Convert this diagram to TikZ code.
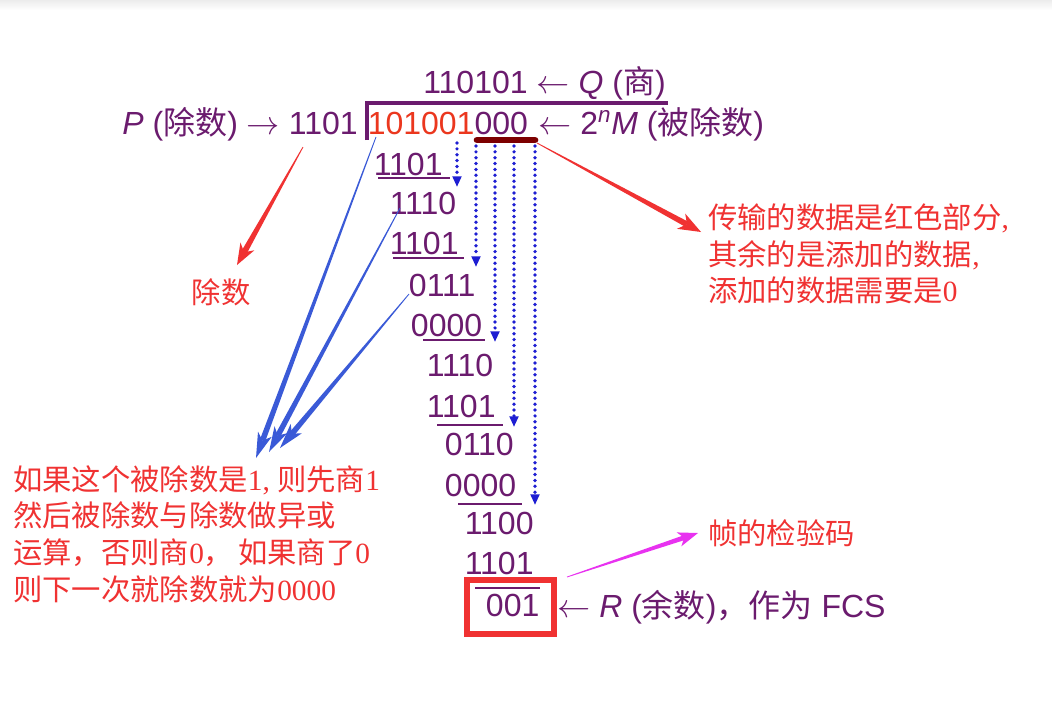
\documentclass[tikz,border=0pt]{standalone}
\usepackage{fontspec}
\setmainfont{Liberation Sans}
\newfontfamily\cjk{Noto Sans CJK SC}
\newfontfamily\sertext{Liberation Serif}
\usetikzlibrary{calc,arrows.meta}
\definecolor{purp}{RGB}{107,27,110}
\definecolor{orred}{RGB}{235,55,30}
\definecolor{redtxt}{RGB}{240,50,50}
\definecolor{darkbar}{RGB}{125,0,0}
\definecolor{bluear}{RGB}{58,90,215}
\definecolor{dotblue}{RGB}{30,30,210}
\definecolor{magen}{RGB}{232,50,240}
\definecolor{boxred}{RGB}{240,50,50}
% #1 colour, #2 tail, #3 tip, #4 tail half-width, #5 shaft end half-width,
% #6 head half-width, #7 head length, #8 notch distance
\newcommand\taperarrow[8]{%
  \coordinate (taW) at ($(#3)!#7!(#2)$);
  \coordinate (taN) at ($(#3)!#8!(#2)$);
  \fill[#1] ($(#2)!#4!90:(#3)$) -- ($(taN)!#5!90:(#3)$) -- ($(taN)!#5!-90:(#3)$) -- ($(#2)!#4!-90:(#3)$) -- cycle;
  \fill[#1] (#3) -- ($(taW)!#6!90:(#3)$) -- (taN) -- ($(taW)!#6!-90:(#3)$) -- cycle;
}
\begin{document}
\begin{tikzpicture}[x=0.75pt,y=-0.75pt,
  num/.style={anchor=base west, inner sep=0pt, text=purp, font=\fontsize{24}{28}\selectfont},
  ptext/.style={inner sep=0pt, text=purp, font=\fontsize{24}{28}\selectfont},
  note/.style={inner sep=0pt, text=redtxt, align=left, font=\cjk\fontsize{22}{27.5}\selectfont},
  rulebar/.style={draw=purp, line width=2.2pt},
  dotarrow/.style={draw=dotblue, line width=2.8pt, line cap=round, dash pattern=on 0pt off 4.4pt, -{Triangle[width=6.5pt,length=8pt]}},
]
\useasboundingbox (0,0) rectangle (1052,708);
\fill[white] (0,0) rectangle (1052,708);
\shade[top color=gray!15,bottom color=white] (0,0) rectangle (1052,10);

% header lines
\node[num] (quot) at (423,93.5) {110101 $\leftarrow$ \textit{Q} ({\cjk 商})};
\node[ptext, anchor=base east] (divisor) at (358,134.5) {\textit{P} ({\cjk 除数}) $\rightarrow$ 1101};
\node[num] (dividend) at (367.5,134.5) {\textcolor{orred}{101001}000};
\node[num] (shifted) at (538,134.5) {$\leftarrow$ 2\textsuperscript{\textit{n}}\textit{M} ({\cjk 被除数})};
\draw[purp, line width=2.6pt] (367,140) -- (367,103) -- (668,103);
\draw[darkbar, line width=5pt, line cap=round] (477,140) -- (535,140);

% division rows
\node[num] (r1) at (373.5,175) {1101};
\node[num] (r2) at (389.5,214.5) {1110};
\node[num] (r3) at (389.5,254.5) {1101};
\node[num] (r4) at (408.7,296.5) {0111};
\node[num] (r5) at (410.7,336.5) {0000};
\node[num] (r6) at (426.5,376.5) {1110};
\node[num] (r7) at (426.5,417.5) {1101};
\node[num] (r8) at (444.7,455.5) {0110};
\node[num] (r9) at (444.7,496.5) {0000};
\node[num] (r10) at (464.5,534.5) {1100};
\node[num] (r11) at (464.5,574.5) {1101};
\node[num] (r12) at (485.7,616.5) {001};
\draw[rulebar] (378,178) -- (450,178);
\draw[rulebar] (393,258) -- (464,258);
\draw[rulebar] (423,340) -- (485,340);
\draw[rulebar] (437,425) -- (503,425);
\draw[rulebar] (458,504) -- (522,504);
\draw[rulebar] (475,588) -- (540,588);
\draw[boxred, line width=4.5pt] (467,580) rectangle (554,634);
\node[num] (rem) at (557,617) {$\leftarrow$ \textit{R} ({\cjk 余数}){\cjk ，作为} FCS};

% dotted bring-down arrows
\coordinate (d1s) at (457,143); \coordinate (d1e) at (457,187);
\coordinate (d2s) at (476,146); \coordinate (d2e) at (476,267);
\coordinate (d3s) at (495,146); \coordinate (d3e) at (495,342);
\coordinate (d4s) at (514,146); \coordinate (d4e) at (514,427);
\coordinate (d5s) at (535,146); \coordinate (d5e) at (535,505);
\draw[dotarrow] (d1s) -- (d1e);
\draw[dotarrow] (d2s) -- (d2e);
\draw[dotarrow] (d3s) -- (d3e);
\draw[dotarrow] (d4s) -- (d4e);
\draw[dotarrow] (d5s) -- (d5e);

% notes
\node[note, anchor=center] (lbldiv) at (221,292) {除数};
\node[note, anchor=west] (lbldata) at (708,254) {传输的数据是红色部分{\sertext ,}\\其余的是添加的数据{\sertext ,}\\添加的数据需要是{\sertext 0}};
\node[note, anchor=west] (lblrule) at (13,534) {如果这个被除数是{\sertext 1, }则先商{\sertext 1}\\然后被除数与除数做异或\\运算，否则商{\sertext 0}，\,如果商了{\sertext 0}\\则下一次就除数就为{\sertext 0000}};
\node[note, anchor=west] (lblfcs) at (708,533) {帧的检验码};

% annotation arrows
\coordinate (divTail) at (303,147); \coordinate (divTip) at (237,265);
\taperarrow{redtxt}{divTail}{divTip}{0.3pt}{2.2pt}{6pt}{16pt}{11pt}
\coordinate (dataTail) at (537,143); \coordinate (dataTip) at (701,232);
\taperarrow{redtxt}{dataTail}{dataTip}{0.3pt}{2.2pt}{6.5pt}{17pt}{12pt}
\coordinate (fcsTail) at (567,577); \coordinate (fcsTip) at (698,533);
\taperarrow{magen}{fcsTail}{fcsTip}{0.3pt}{1.8pt}{5.5pt}{15pt}{11pt}
\coordinate (a1s) at (376,137); \coordinate (a1e) at (256,458);
\coordinate (a2s) at (400,208); \coordinate (a2e) at (269,452);
\coordinate (a3s) at (409,294); \coordinate (a3e) at (280,448);
\taperarrow{bluear}{a1s}{a1e}{0.3pt}{2.1pt}{5.5pt}{19pt}{14pt}
\taperarrow{bluear}{a2s}{a2e}{0.3pt}{2.1pt}{5.5pt}{19pt}{14pt}
\taperarrow{bluear}{a3s}{a3e}{0.3pt}{2.1pt}{5.5pt}{19pt}{14pt}
\end{tikzpicture}
\end{document}
